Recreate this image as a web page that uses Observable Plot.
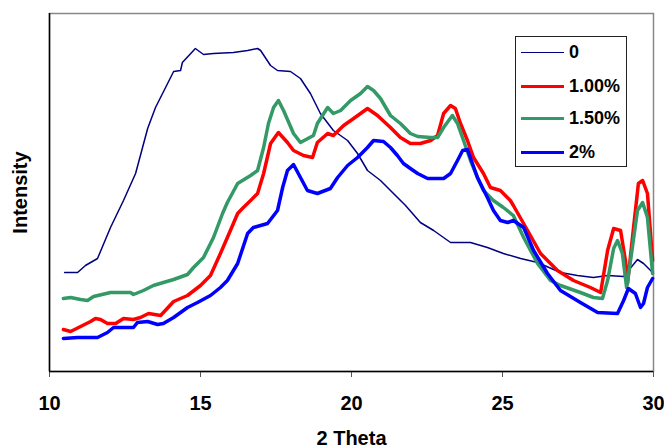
<!DOCTYPE html>
<html>
<head>
<meta charset="utf-8">
<script src="https://cdn.jsdelivr.net/npm/d3@7"></script>
<script src="https://cdn.jsdelivr.net/npm/@observablehq/plot@0.6"></script>
<style>
  html, body { margin: 0; padding: 0; background: #fff; }
  #wrap { position: relative; width: 664px; height: 448px; font-family: "Liberation Sans", Arial, sans-serif; }
  #legend { position: absolute; left: 515px; top: 36px; width: 112px; height: 131px; border: 1px solid #222; background: #fff; box-sizing: border-box; }
  .row { position: absolute; left: 5px; height: 22px; display: flex; align-items: center; }
  .sw { width: 43px; margin-right: 5px; }
  .lab { font-weight: bold; font-size: 18px; color: #000; }
</style>
</head>
<body>
<div id="wrap"></div>
<script>
// 2 Theta positions and intensity (arbitrary units) for each sample
const series0 = [
  [10.50,99],[10.93,99],[11.19,106],[11.59,113],[12.02,144],[12.45,171],[12.85,198],[13.25,243],
  [13.51,264],[13.91,288],[14.11,300],[14.34,301],[14.40,309],[14.83,323],[15.10,317],[15.43,318],
  [16.09,319],[16.56,321],[16.89,323],[16.99,321],[17.32,306],[17.55,301],[17.98,300],[18.31,293],
  [18.64,278],[18.97,258],[19.40,241],[19.87,231],[20.20,218],[20.53,201],[20.96,191],[21.39,178],
  [21.79,166],[22.28,149],[22.72,141],[23.28,129],[23.94,129],[24.50,124],[25.03,118],[25.60,113],
  [26.16,109],[26.92,99],[27.48,96],[28.01,94],[28.48,96],[29.01,95],[29.47,112],[29.67,108],[29.97,99]
];
const series100 = [
  [10.46,42],[10.70,40],[11.03,45],[11.36,50],[11.52,53],[11.69,52],[11.92,48],[12.19,48],
  [12.45,53],[12.78,52],[13.01,54],[13.28,58],[13.68,56],[14.11,70],[14.57,76],[15.00,86],
  [15.33,96],[15.66,118],[15.99,141],[16.23,158],[16.42,164],[16.66,171],[16.89,178],[17.09,198],
  [17.32,228],[17.58,239],[17.88,229],[18.08,221],[18.41,216],[18.71,214],[18.87,229],[19.21,238],
  [19.40,236],[19.74,246],[20.07,253],[20.53,263],[20.86,256],[21.29,244],[21.62,234],[21.95,228],
  [22.28,228],[22.62,231],[22.85,236],[23.05,258],[23.28,266],[23.44,263],[23.61,248],[23.84,231],
  [24.04,214],[24.37,198],[24.60,184],[24.93,181],[25.26,171],[25.36,166],[25.83,141],[26.26,118],
  [26.82,101],[27.35,91],[27.91,84],[28.25,79],[28.48,121],[28.68,143],[28.91,141],[29.07,111],
  [29.14,88],[29.34,144],[29.50,188],[29.64,191],[29.80,178],[29.97,111]
];
const series150 = [
  [10.46,73],[10.70,74],[11.03,72],[11.26,71],[11.46,75],[12.02,79],[12.68,79],[12.78,77],
  [13.11,81],[13.44,86],[13.77,89],[14.11,92],[14.57,97],[14.77,104],[15.10,114],[15.43,134],
  [15.73,158],[15.89,169],[16.23,188],[16.66,196],[16.89,201],[17.09,224],[17.25,248],[17.42,264],
  [17.58,271],[17.75,261],[18.08,238],[18.31,229],[18.74,236],[18.87,248],[19.21,264],[19.40,258],
  [19.64,261],[19.97,271],[20.30,278],[20.53,285],[20.73,281],[20.96,273],[21.29,256],[21.62,248],
  [21.95,238],[22.19,235],[22.62,234],[22.85,234],[23.05,244],[23.34,256],[23.51,248],[23.71,231],
  [23.94,211],[24.17,194],[24.37,181],[24.70,171],[25.03,164],[25.36,156],[25.70,134],[26.16,108],
  [26.59,91],[26.92,86],[27.58,79],[28.01,74],[28.31,73],[28.48,91],[28.68,123],[28.81,131],
  [28.97,118],[29.11,84],[29.24,111],[29.47,161],[29.64,169],[29.80,154],[29.97,98]
];
const series200 = [
  [10.46,33],[10.93,34],[11.59,34],[11.92,39],[12.12,44],[12.58,44],[12.78,44],[12.91,49],
  [13.25,50],[13.58,47],[13.77,48],[14.11,54],[14.57,64],[14.90,69],[15.33,76],[15.66,84],
  [15.89,91],[16.23,108],[16.56,138],[16.75,144],[17.22,148],[17.55,161],[17.72,184],[17.88,201],
  [18.08,207],[18.31,194],[18.54,181],[18.87,178],[19.30,183],[19.54,194],[19.87,206],[20.20,214],
  [20.53,224],[20.73,231],[21.06,230],[21.29,224],[21.52,216],[21.72,208],[21.95,203],[22.19,198],
  [22.52,193],[23.05,193],[23.28,198],[23.51,211],[23.68,221],[23.84,222],[24.17,194],[24.50,174],
  [24.70,161],[24.93,151],[25.17,149],[25.36,151],[25.70,144],[26.03,121],[26.49,98],[26.92,81],
  [27.58,69],[28.15,59],[28.81,58],[29.01,71],[29.17,83],[29.40,78],[29.57,64],[29.67,68],
  [29.80,84],[29.97,93]
];
const seriesNames = ["0", "1.00%", "1.50%", "2%"];
const seriesColors = ["#000080", "#ff0000", "#339966", "#0000ff"];
const seriesWidths = [1.5, 3.5, 3.5, 3.5];
const xTicks = [10, 15, 20, 25, 30];
const xLabel = "2 Theta";
const yLabel = "Intensity";

const allSeries = [series0, series100, series150, series200];
const toRows = (arr, name) => arr.map(([t, v]) => ({theta: t, intensity: v, series: name}));

const lineMarks = allSeries.map((s, i) =>
  Plot.line(toRows(s, seriesNames[i]), {
    x: "theta", y: "intensity",
    stroke: seriesColors[i], strokeWidth: seriesWidths[i],
    strokeLinejoin: "round", strokeLinecap: "round"
  })
);

const chart = Plot.plot({
  width: 664,
  height: 448,
  marginLeft: 49,
  marginRight: 11,
  marginTop: 13,
  marginBottom: 77,
  style: {fontFamily: "'Liberation Sans', Arial, sans-serif", fontSize: "20px", fontWeight: "bold", color: "#000", background: "#fff"},
  x: {domain: [10, 30]},
  y: {domain: [0, 358]},
  marks: [
    Plot.frame({stroke: "#888", strokeWidth: 1.5}),
    Plot.axisX({ticks: xTicks, tickSize: 6, tickPadding: 18, label: xLabel, labelArrow: "none", labelAnchor: "center", labelOffset: 73, fontSize: 20, stroke: "#555"}),
    Plot.axisY({ticks: [], label: yLabel, labelArrow: "none", labelAnchor: "center", labelOffset: 37, fontSize: 20}),
    Plot.ruleX([10], {stroke: "#000", strokeWidth: 1.5}),
    Plot.ruleY([0], {stroke: "#000", strokeWidth: 1.5}),
    ...lineMarks
  ]
});

const wrap = document.getElementById("wrap");
wrap.appendChild(chart);

const legend = document.createElement("div");
legend.id = "legend";
const rowTops = [4, 38, 70, 104];
seriesNames.forEach((n, i) => {
  const row = document.createElement("div");
  row.className = "row";
  row.style.top = rowTops[i] + "px";
  const sw = document.createElement("div");
  sw.className = "sw";
  sw.style.borderTop = seriesWidths[i] + "px solid " + seriesColors[i];
  const lab = document.createElement("span");
  lab.className = "lab";
  lab.textContent = n;
  row.appendChild(sw);
  row.appendChild(lab);
  legend.appendChild(row);
});
wrap.appendChild(legend);
</script>
</body>
</html>
